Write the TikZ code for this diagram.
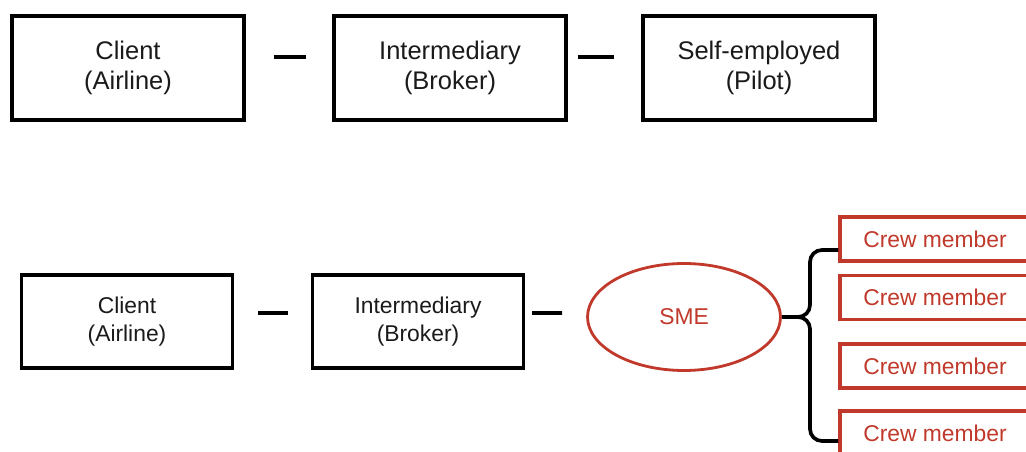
\documentclass[tikz,border=0pt]{standalone}
\usepackage{fontspec}
\setmainfont{Liberation Sans}
\usetikzlibrary{shapes.geometric}
\definecolor{ink}{HTML}{1A1A1A}
\definecolor{crew}{HTML}{C0392B}
\tikzset{
  role/.style={draw=black,line width=1.9pt,align=center,text=ink,inner sep=0pt,
    minimum width=4.64cm,minimum height=2.08cm,font=\fontsize{14.5}{17.5}\selectfont},
  rolesm/.style={role,minimum width=4.22cm,minimum height=1.86cm,
    font=\fontsize{13}{16}\selectfont},
  sme/.style={ellipse,draw=crew,line width=1.6pt,text=crew,inner sep=0pt,
    minimum width=3.86cm,minimum height=2.14cm,font=\fontsize{13}{16}\selectfont},
  member/.style={draw=crew,line width=1.9pt,text=crew,inner sep=0pt,
    minimum width=3.8cm,minimum height=0.88cm,font=\fontsize{13}{16}\selectfont},
  link/.style={line width=2.1pt,draw=black},
}
\begin{document}
\begin{tikzpicture}[x=0.02cm,y=-0.02cm]
    \useasboundingbox (0,0) rectangle (1026,452);
    \clip (0,0) rectangle (1026,452);

    \node[role] (c1) at (128,68)  {Client\\(Airline)};
    \node[role] (i1) at (450,68)  {Intermediary\\(Broker)};
    \node[role] (s1) at (759,68)  {Self-employed\\(Pilot)};

    \node[rolesm] (c2) at (127,321.5) {Client\\(Airline)};
    \node[rolesm] (i2) at (418,321.5) {Intermediary\\(Broker)};
    \node[sme] (sme) at (684,317) {SME};

    \foreach \k/\y in {1/239,2/297.5,3/366,4/433}
      \node[member] (m\k) at (935,\y) {Crew member};

    \draw[link,shorten <=0.56cm,shorten >=0.52cm] ([yshift=0.22cm]c1.east) -- ([yshift=0.22cm]i1.west);
    \draw[link,shorten <=0.2cm,shorten >=0.54cm] ([yshift=0.22cm]i1.east) -- ([yshift=0.22cm]s1.west);
    \draw[link,shorten <=0.48cm,shorten >=0.46cm] ([yshift=0.17cm]c2.east) -- ([yshift=0.17cm]i2.west);
    \draw[link,shorten <=0.14cm,shorten >=0.48cm] ([yshift=0.17cm]i2.east) -- ([yshift=0.08cm]sme.west);

    \coordinate (fork) at (798,317);
    \draw[link] (sme.east) -- (fork);
    \draw[link,rounded corners=0.24cm] (fork) -- ++(12,0) |- ([yshift=-0.22cm]m1.west);
    \draw[link,rounded corners=0.24cm] (fork) -- ++(12,0) |- ([yshift=-0.16cm]m4.west);
  \end{tikzpicture}
\end{document}
